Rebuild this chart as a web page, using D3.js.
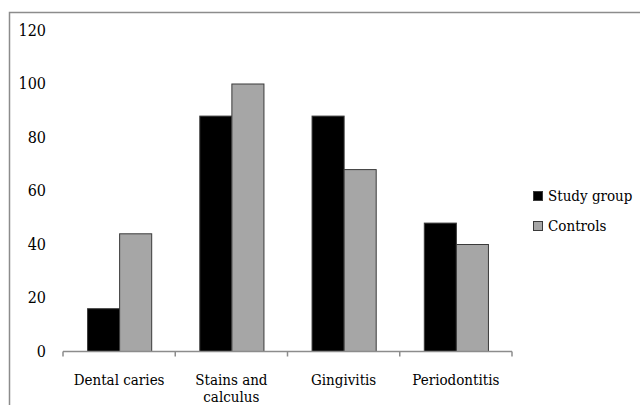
<!DOCTYPE html>
<html><head><meta charset="utf-8">
<script src="https://cdn.jsdelivr.net/npm/d3@7"></script>
<style>body{margin:0;background:#fff}svg{display:block}text{font-family:"DejaVu Serif Condensed","DejaVu Serif",serif;fill:#000}</style>
</head><body>
<script>
const categories = ["Dental caries", "Stains and calculus", "Gingivitis", "Periodontitis"];
const categoryLines = [["Dental caries"], ["Stains and", "calculus"], ["Gingivitis"], ["Periodontitis"]];
const seriesNames = ["Study group", "Controls"];
const studyGroup = [16, 88, 88, 48];
const controls = [44, 100, 68, 40];
const yTicks = [0, 20, 40, 60, 80, 100, 120];
const colors = ["#000000", "#a6a6a6"];

const W = 640, H = 405;
const svg = d3.select("body").append("svg").attr("width", W).attr("height", H);
svg.append("rect").attr("x", 9.5).attr("y", 12.5).attr("width", 700).attr("height", 500)
  .attr("fill", "none").attr("stroke", "#8c8c8c").attr("stroke-width", 1.5);

const x0 = 63, x1 = 512, yBase = 351, yTop = 30;
const x = d3.scaleBand().domain(categories).range([x0, x1]).paddingInner(0).paddingOuter(0);
const xs = d3.scaleBand().domain(seriesNames).range([0, x.bandwidth()]).paddingInner(0).paddingOuter(0.75);
const y = d3.scaleLinear().domain([0, 120]).range([yBase, yTop]);

// y labels
svg.append("g").selectAll("text").data(yTicks).join("text")
  .attr("x", 46).attr("y", d => y(d)).attr("dy", "0.35em").attr("text-anchor", "end")
  .style("font-size", "16px").text(d => d);

// bars
const series = [studyGroup, controls];
series.forEach((vals, si) => {
  svg.append("g").selectAll("rect").data(vals).join("rect")
    .attr("x", (d, i) => x(categories[i]) + xs(seriesNames[si]) + 0.5)
    .attr("y", d => y(d) + 0.5)
    .attr("width", xs.bandwidth())
    .attr("height", d => yBase - y(d))
    .attr("fill", colors[si]).attr("stroke", "#3a3a3a").attr("stroke-width", 1);
});

// x axis
const ax = svg.append("g").attr("transform", `translate(0,${yBase + 0.5})`);
ax.append("line").attr("x1", x0).attr("x2", x1).attr("stroke", "#8c8c8c").attr("stroke-width", 1.5);
const tickPos = categories.map(c => x(c)).concat([x1]);
ax.selectAll("line.t").data(tickPos).join("line").attr("class", "t")
  .attr("x1", d => d).attr("x2", d => d).attr("y1", 0).attr("y2", 5)
  .attr("stroke", "#8c8c8c").attr("stroke-width", 1.5);

const lab = svg.append("g").selectAll("text").data(categories).join("text")
  .attr("x", d => x(d) + x.bandwidth() / 2).attr("y", 380)
  .attr("text-anchor", "middle").style("font-size", "15px");
lab.each(function(d, i) {
  const t = d3.select(this);
  categoryLines[i].forEach((ln, k) => {
    t.append("tspan").attr("x", x(d) + x.bandwidth() / 2).attr("dy", k === 0 ? "0.35em" : "1.1em").text(ln);
  });
});

// legend
const lg = svg.append("g");
seriesNames.forEach((n, i) => {
  const ly = 196 + i * 30;
  lg.append("rect").attr("x", 533.5).attr("y", ly - 4.5).attr("width", 9).attr("height", 9)
    .attr("fill", colors[i]).attr("stroke", "#3a3a3a");
  lg.append("text").attr("x", 548).attr("y", ly).attr("dy", "0.35em").style("font-size", "15px").text(n);
});
</script>
</body></html>
